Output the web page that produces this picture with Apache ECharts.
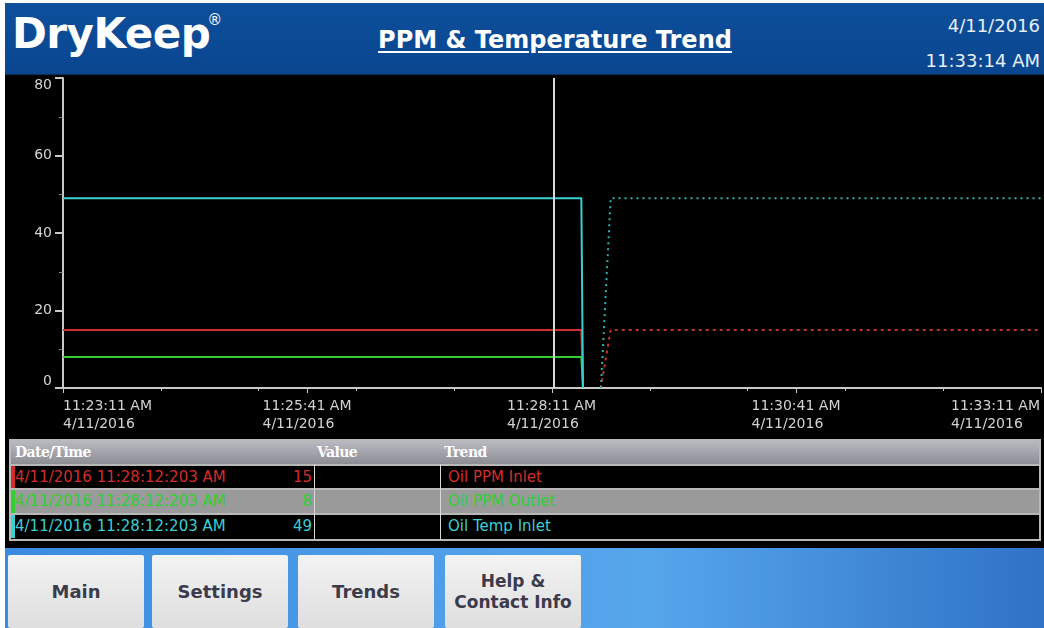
<!DOCTYPE html>
<html>
<head>
<meta charset="utf-8">
<script src="https://cdn.jsdelivr.net/npm/echarts@6/dist/echarts.min.js"></script>
<style>
  html, body { margin: 0; padding: 0; background: #fff; }
  body { width: 1044px; height: 628px; position: relative; overflow: hidden; font-family: "DejaVu Sans", sans-serif; }
  .header { position: absolute; left: 5px; top: 3px; width: 1039px; height: 72px; background: linear-gradient(#0d4f9b, #0a4690); border-bottom: 1px solid #062c5c; box-sizing: border-box; }
  .brand { position: absolute; left: 7px; top: 6px; color: #fff; font-weight: bold; font-size: 42px; letter-spacing: -0.5px; }
  .brand sup { font-size: 15px; font-weight: normal; position: relative; top: -8px; margin-left: -3px; }
  .title { position: absolute; left: 0; width: 1100px; top: 23px; text-align: center; color: #fff; font-weight: bold; font-size: 24px; text-decoration: underline; text-underline-offset: 3px; }
  .clock { position: absolute; right: 4px; color: #e8eef8; font-size: 18px; text-align: right; }
  .panel { position: absolute; left: 5px; top: 75px; width: 1039px; height: 473px; background: #000; }
  #chart { position: absolute; left: 5px; top: 75px; width: 1039px; height: 363px; }
  .table { position: absolute; left: 9px; top: 439px; width: 1032px; height: 102px; border: 2px solid #b8b8b8; box-sizing: border-box; background: #000; }
  .row { position: absolute; left: 0; width: 1028px; height: 23px; font-size: 15px; line-height: 23px; }
  .row span { position: absolute; top: 0; white-space: nowrap; }
  .hdr { top: 0; background: linear-gradient(#b9b9c1, #8d8d95); color: #fff; font-weight: bold; font-size: 14px; font-family: "DejaVu Serif", serif; letter-spacing: -0.6px; }
  .sep { position: absolute; left: 0; width: 1028px; height: 2px; background: #b8b8b8; }
  .vline { position: absolute; top: 23px; width: 1px; height: 75px; background: #d8d8d8; }
  .mark { position: absolute; left: 0; top: 0; width: 4px; height: 23px; }
  .bar { position: absolute; left: 5px; top: 548px; width: 1039px; height: 80px; background: linear-gradient(90deg, #3a8be0 0%, #4f9de8 40%, #56a6ec 62%, #2f72c6 100%); }
  .btn { position: absolute; top: 7px; height: 73px; width: 136px; background: linear-gradient(#f3f3f3, #dedede); border-radius: 2px; color: #3b3b4c; font-weight: bold; font-size: 18px; display: flex; align-items: center; justify-content: center; text-align: center; line-height: 21px; }
</style>
</head>
<body>
<div class="header">
  <div class="brand">DryKeep<sup>®</sup></div>
  <div class="title">PPM &amp; Temperature Trend</div>
  <div class="clock" id="clockDate" style="top:12px"></div>
  <div class="clock" id="clockTime" style="top:47px"></div>
</div>
<div class="panel"></div>
<div id="chart"></div>
<div class="table" id="table"></div>
<div class="bar" id="bar"></div>

<script>
// time axis, seconds after 11:23:11 AM
const tickSeconds = [0, 150, 300, 450, 600];
const tickTimes = ['11:23:11 AM', '11:25:41 AM', '11:28:11 AM', '11:30:41 AM', '11:33:11 AM'];
const tickDate = '4/11/2016';
const yTicks = [0, 20, 40, 60, 80];

// logged history (solid) and live pens (dotted)
const ppmInlet = [[0, 15], [318, 15], [319, 0]];
const ppmOutlet = [[0, 8], [318, 8], [319, 0]];
const tempInlet = [[0, 49], [318, 49], [319, 0]];
const ppmInletLive = [[330, 0], [336, 15], [600, 15]];
const tempInletLive = [[330, 0], [336, 49], [600, 49]];

// cursor read-out
const cursorSec = 301.2;
const cursorStamp = '4/11/2016 11:28:12:203 AM';
const trendNames = ['Oil PPM Inlet', 'Oil PPM Outlet', 'Oil Temp Inlet'];
const trendValues = [15, 8, 49];

const nowDate = '4/11/2016';
const nowTime = '11:33:14 AM';
const buttons = ['Main', 'Settings', 'Trends', 'Help &<br>Contact Info'];

const penColors = ['#d22c2c', '#2fd02f', '#3ccfd2'];

document.getElementById('clockDate').textContent = nowDate;
document.getElementById('clockTime').textContent = nowTime;

// table below the chart
const table = document.getElementById('table');
let html = '<div class="row hdr"><span style="left:4px">Date/Time</span>' +
  '<span style="left:306px">Value</span><span style="left:433px">Trend</span></div>';
const rowTops = [25, 49, 74];
trendNames.forEach((name, i) => {
  const bg = i === 1 ? '#9a9a9a' : '#000';
  html += '<div class="sep" style="top:' + (rowTops[i] - 2) + 'px"></div>';
  html += '<div class="row" style="top:' + rowTops[i] + 'px;background:' + bg + ';color:' + penColors[i] + '">' +
    '<div class="mark" style="background:' + penColors[i] + '"></div>' +
    '<span style="left:4px">' + cursorStamp + '</span>' +
    '<span style="right:727px">' + trendValues[i] + '</span>' +
    '<span style="left:437px">' + name + '</span></div>';
});
html += '<div class="vline" style="left:303px"></div><div class="vline" style="left:429px"></div>';
table.innerHTML = html;

// navigation buttons
const bar = document.getElementById('bar');
const btnLefts = [3, 147, 293, 440];
bar.innerHTML = buttons.map((b, i) =>
  '<div class="btn" style="left:' + btnLefts[i] + 'px' + (i === 3 ? ';font-size:17px' : '') + '">' + b + '</div>'
).join('');

const chart = echarts.init(document.getElementById('chart'));

const axisColor = '#c9c9c9';
const option = {
  backgroundColor: '#000',
  animation: false,
  grid: { left: 58, right: 1, top: 3, bottom: 50 },
  xAxis: [
    {
      type: 'value',
      min: 0,
      max: 600,
      interval: 150,
      axisLine: { lineStyle: { color: axisColor, width: 2 } },
      axisTick: { length: 5, lineStyle: { color: axisColor } },
      splitLine: { show: false },
      axisLabel: {
        color: '#d2d2d2',
        margin: 9,
        alignMinLabel: 'left',
        alignMaxLabel: 'right',
        formatter: v => '{t|' + tickTimes[tickSeconds.indexOf(v)] + '}\n{t|' + tickDate + '}',
        rich: {
          t: { width: 90, align: 'left', fontFamily: 'DejaVu Sans', fontSize: 14, lineHeight: 18, color: '#d2d2d2' }
        }
      }
    },
    {
      type: 'value',
      position: 'bottom',
      min: 0,
      max: 600,
      interval: 60,
      axisLine: { show: false },
      axisTick: { length: 3, lineStyle: { color: axisColor } },
      axisLabel: { show: false },
      splitLine: { show: false }
    }
  ],
  yAxis: {
    type: 'value',
    min: yTicks[0],
    max: yTicks[yTicks.length - 1],
    interval: 20,
    axisLine: { show: true, lineStyle: { color: axisColor, width: 2 } },
    axisTick: { show: true, length: 8, lineStyle: { color: axisColor, width: 2 } },
    minorTick: { show: true, splitNumber: 2, length: 4, lineStyle: { color: '#888' } },
    splitLine: { show: false },
    axisLabel: {
      color: '#d4d4d4',
      fontFamily: 'DejaVu Sans',
      fontSize: 14,
      margin: 11,
      verticalAlignMinLabel: 'bottom',
      verticalAlignMaxLabel: 'top'
    }
  },
  series: [
    { name: 'Oil PPM Inlet', type: 'line', data: ppmInlet, showSymbol: false, lineStyle: { color: penColors[0], width: 2 } },
    { name: 'Oil PPM Outlet', type: 'line', data: ppmOutlet, showSymbol: false, lineStyle: { color: penColors[1], width: 2 } },
    {
      name: 'Oil Temp Inlet', type: 'line', data: tempInlet, showSymbol: false,
      lineStyle: { color: penColors[2], width: 2 },
      markLine: {
        silent: true,
        symbol: 'none',
        label: { show: false },
        lineStyle: { color: '#d8d8d8', width: 2, type: 'solid' },
        data: [{ xAxis: cursorSec }]
      }
    },
    { name: 'Oil PPM Inlet live', type: 'line', data: ppmInletLive, showSymbol: false, lineStyle: { color: '#b83a22', width: 2, type: [3, 4] } },
    { name: 'Oil Temp Inlet live', type: 'line', data: tempInletLive, showSymbol: false, lineStyle: { color: '#2fb0b0', width: 2, type: [2, 4] } }
  ]
};

chart.setOption(option);
</script>
</body>
</html>
